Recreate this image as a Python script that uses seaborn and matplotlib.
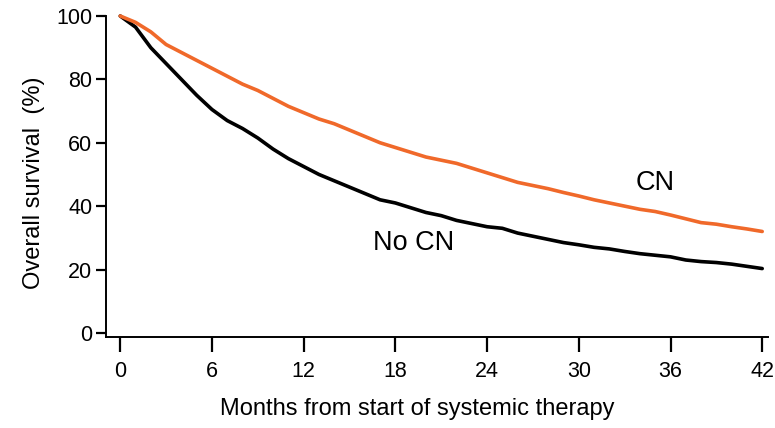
import numpy as np
import pandas as pd
import matplotlib
matplotlib.use("Agg")
import matplotlib.pyplot as plt
import seaborn as sns

# -------------------------
# Data (overall survival, %)
# -------------------------
months = list(range(0, 43))
no_cn = [100, 96.5, 90, 85, 80, 75, 70.5, 67, 64.5, 61.5, 58, 55, 52.5, 50, 48,
         46, 44, 42, 41, 39.5, 38, 37, 35.5, 34.5, 33.5, 33, 31.5, 30.5, 29.5,
         28.5, 27.8, 27, 26.5, 25.7, 25, 24.5, 24, 23, 22.5, 22.2, 21.7, 21, 20.3]
cn = [100, 98, 95, 91, 88.5, 86, 83.5, 81, 78.5, 76.5, 74, 71.5, 69.5, 67.5, 66,
      64, 62, 60, 58.5, 57, 55.5, 54.5, 53.5, 52, 50.5, 49, 47.5, 46.5, 45.5,
      44.3, 43.2, 42, 41, 40, 39, 38.3, 37.2, 36, 34.8, 34.3, 33.5, 32.8, 32]
x_ticks = [0, 6, 12, 18, 24, 30, 36, 42]
y_ticks = [0, 20, 40, 60, 80, 100]

df = pd.DataFrame({"month": months * 2,
                   "survival": no_cn + cn,
                   "group": ["No CN"] * len(months) + ["CN"] * len(months)})

sns.set_style("ticks")
plt.rcParams["font.family"] = ["Liberation Sans", "DejaVu Sans"]
plt.rcParams["text.color"] = "black"
plt.rcParams["axes.labelcolor"] = "black"
plt.rcParams["xtick.color"] = "black"
plt.rcParams["ytick.color"] = "black"

fig = plt.figure(figsize=(7.75, 4.28), dpi=100)
ax = fig.add_axes([0.137, 0.2126, 0.854, 0.75])

sns.lineplot(data=df, x="month", y="survival", hue="group",
             palette={"No CN": "black", "CN": "#F0692A"},
             linewidth=2.6, legend=False, ax=ax, clip_on=False)

ax.set_xlim(-0.92, 42.38)
ax.set_ylim(-1.3, 100)
ax.set_xticks(x_ticks)
ax.set_yticks(y_ticks)
ax.tick_params(axis="y", length=7, width=1.6, labelsize=15.5, pad=3,
               color="black", labelcolor="black")
ax.tick_params(axis="x", length=11, width=1.6, labelsize=15.5, pad=6,
               color="black", labelcolor="black")
for s in ["top", "right"]:
    ax.spines[s].set_visible(False)
for s in ["left", "bottom"]:
    ax.spines[s].set_linewidth(1.4)
    ax.spines[s].set_color("black")

ax.set_xlabel("Months from start of systemic therapy", fontsize=17,
              labelpad=12, x=0.47)
ax.set_ylabel("Overall survival  (%)", fontsize=17, labelpad=8, y=0.48)

ax.text(35, 47.3, "CN", fontsize=19.5, ha="center", va="center")
ax.text(19.2, 28.4, "No CN", fontsize=19.5, ha="center", va="center")

fig.savefig("out.png", dpi=100)
